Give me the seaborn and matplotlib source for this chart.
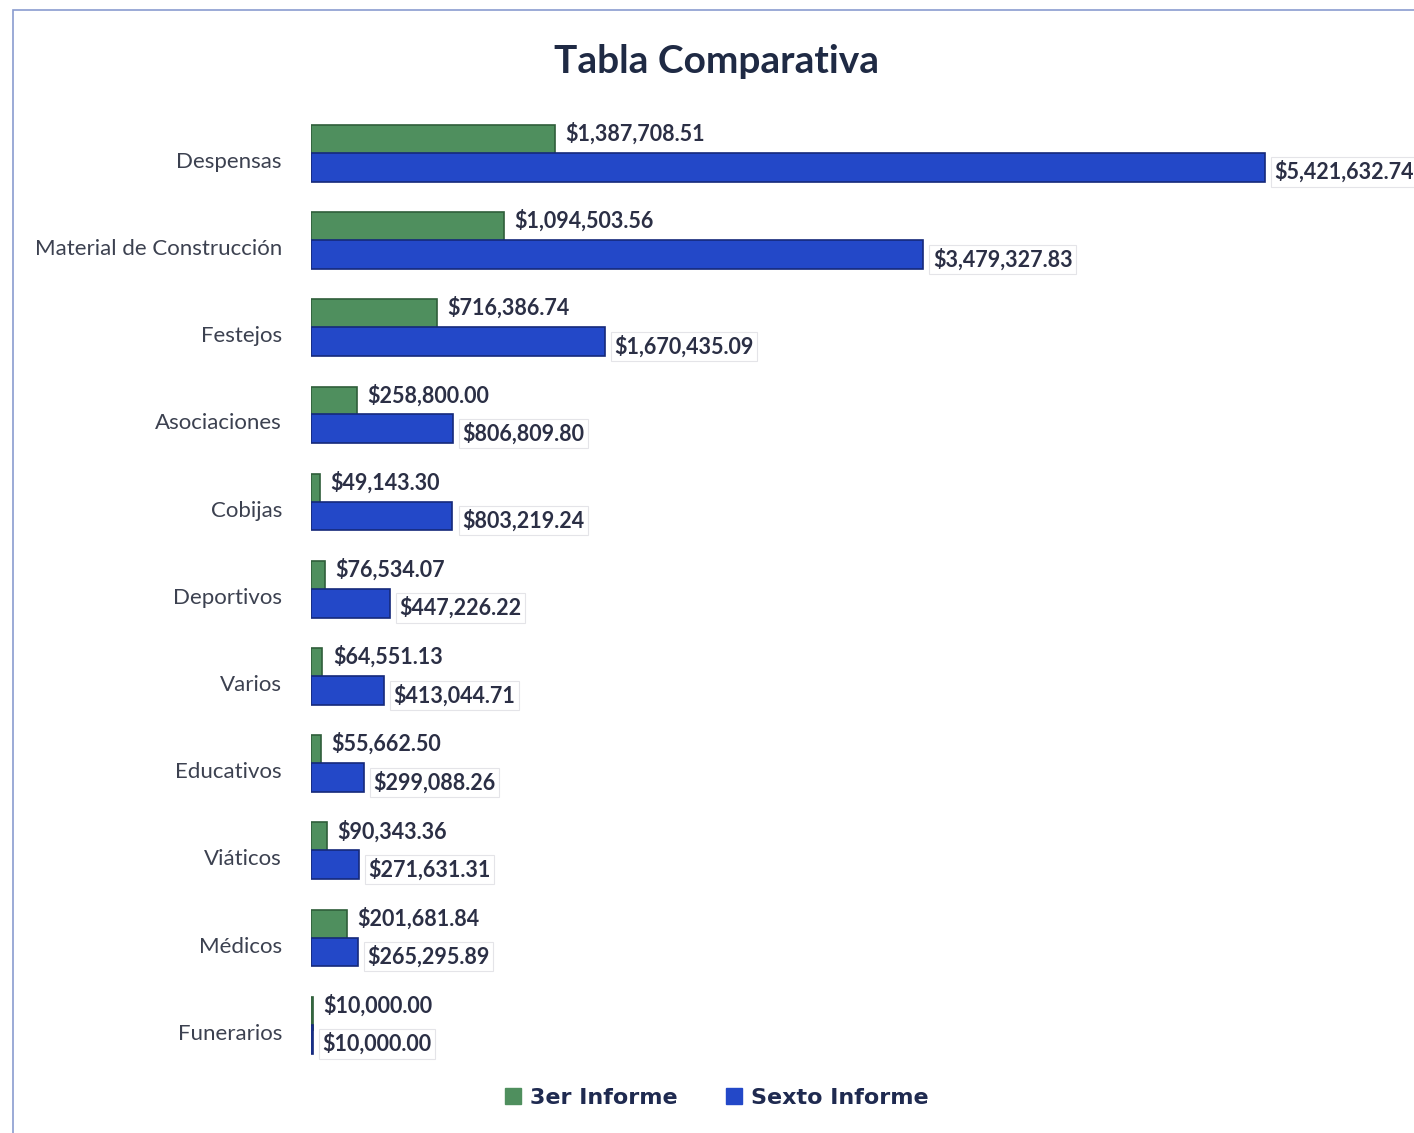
import pandas as pd
import seaborn as sns
import matplotlib.pyplot as plt
from matplotlib.patches import Rectangle

# datos
categorias = ["Despensas", "Material de Construcción", "Festejos", "Asociaciones",
              "Cobijas", "Deportivos", "Varios", "Educativos", "Viáticos",
              "Médicos", "Funerarios"]
tercer_informe = [1387708.51, 1094503.56, 716386.74, 258800.00, 49143.30,
                  76534.07, 64551.13, 55662.50, 90343.36, 201681.84, 10000.00]
sexto_informe = [5421632.74, 3479327.83, 1670435.09, 806809.80, 803219.24,
                 447226.22, 413044.71, 299088.26, 271631.31, 265295.89, 10000.00]
series = ["3er Informe", "Sexto Informe"]

verde = "#4f8f5e"
azul = "#2348c8"

df_3 = pd.DataFrame({"categoria": categorias, "monto": tercer_informe})
df_6 = pd.DataFrame({"categoria": categorias, "monto": sexto_informe})

sns.set_style("white")
plt.rcParams["font.family"] = ["Lato", "DejaVu Sans"]

fig = plt.figure(figsize=(14.14, 11.33), dpi=100)
ax = fig.add_axes([0.22, 0.0432, 0.78, 0.86])

# barra verde (atras) y barra azul (delante), se superponen
sns.barplot(data=df_3, y="categoria", x="monto", color=verde, width=0.38,
            saturation=1, edgecolor="#2f5e3a", linewidth=1.2, ax=ax)
n = len(ax.patches)
for p in ax.patches[:n]:
    p.set_y(p.get_y() - 0.21)
sns.barplot(data=df_6, y="categoria", x="monto", color=azul, width=0.33,
            saturation=1, edgecolor="#15297a", linewidth=1.2, ax=ax)
for p in ax.patches[n:]:
    p.set_y(p.get_y() + 0.085)

# etiquetas de valores
for i, (v3, v6) in enumerate(zip(tercer_informe, sexto_informe)):
    ax.text(v3 + 60000, i - 0.3, f"${v3:,.2f}", va="center", ha="left",
            fontsize=15.5, fontweight="bold", color="#2b2f45",
            bbox=dict(fc="white", ec="none", pad=1.5))
    ax.text(v6 + 55000, i + 0.14, f"${v6:,.2f}", va="center", ha="left",
            fontsize=15.5, fontweight="bold", color="#2b2f45",
            bbox=dict(fc="white", ec="#e4e4e8", lw=0.8, pad=2.5))

ax.set_xlim(0, 6270000)
ax.set_ylim(10.6, -0.575)
ax.set_xlabel("")
ax.set_ylabel("")
ax.set_xticks([])
ax.tick_params(axis="y", length=0, pad=21, labelsize=16, labelcolor="#3c4150")
sns.despine(ax=ax, left=True, bottom=True)

fig.text(0.507, 0.946, "Tabla Comparativa", ha="center", va="center",
         fontsize=28, fontweight="bold", color="#1f2a44")

# leyenda
handles = [Rectangle((0, 0), 1, 1, color=verde), Rectangle((0, 0), 1, 1, color=azul)]
fig.legend(handles, series, loc="center", bbox_to_anchor=(0.507, 0.031), ncol=2,
           frameon=False, handlelength=0.7, handleheight=0.7, columnspacing=2.2,
           handletextpad=0.4,
           prop={"family": "DejaVu Sans", "weight": "heavy", "size": 16})
for t in fig.legends[0].get_texts():
    t.set_color("#1f2a50")

# marco del grafico
fig.patches.append(Rectangle((13 / 1414, -0.01), 1.1, 1 - 10 / 1133 + 0.01,
                             transform=fig.transFigure, fill=False,
                             ec="#8a9ccf", lw=1.2, zorder=0))

fig.savefig("out.png", dpi=100)
